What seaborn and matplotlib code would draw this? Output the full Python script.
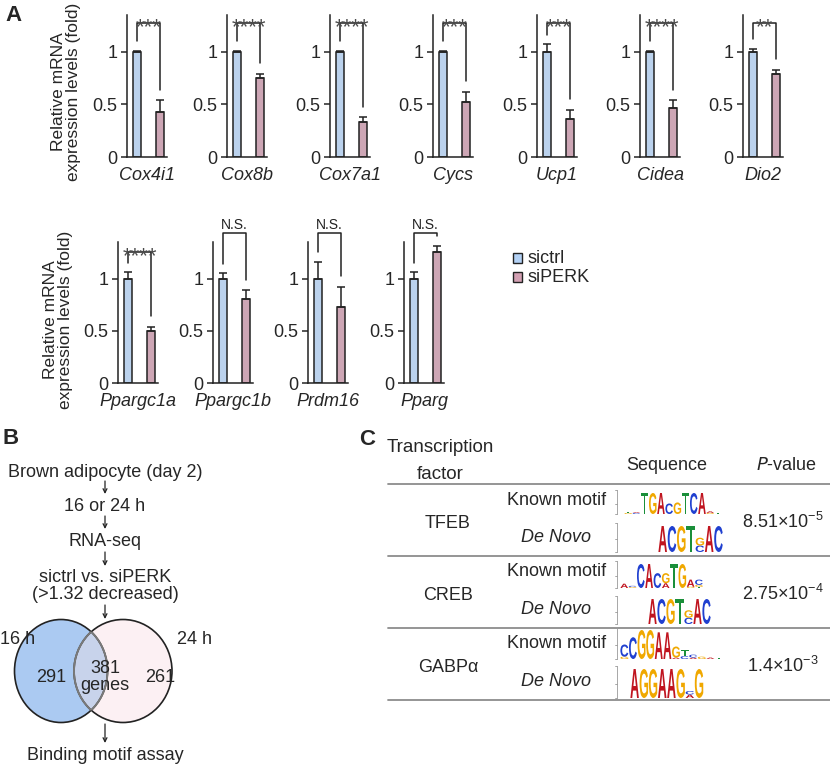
import numpy as np
import pandas as pd
import matplotlib.pyplot as plt
import seaborn as sns
from matplotlib.patches import Ellipse, PathPatch, Rectangle
from matplotlib.textpath import TextPath
from matplotlib.font_manager import FontProperties
from matplotlib.transforms import Affine2D

sns.set_style("ticks")
plt.rcParams['font.family'] = ['Liberation Sans', 'DejaVu Sans']
plt.rcParams['mathtext.default'] = 'regular'

# ---- panel A data ----
genes_top = ["Cox4i1", "Cox8b", "Cox7a1", "Cycs", "Ucp1", "Cidea", "Dio2"]
ctrl_top = [1.0, 1.0, 1.0, 1.0, 1.0, 1.0, 1.0]
ctrl_top_err = [0.01, 0.01, 0.01, 0.01, 0.07, 0.01, 0.03]
perk_top = [0.43, 0.75, 0.33, 0.52, 0.36, 0.47, 0.79]
perk_top_err = [0.11, 0.04, 0.05, 0.10, 0.09, 0.07, 0.04]
sig_top = ["***", "****", "****", "***", "***", "****", "**"]

genes_bot = ["Ppargc1a", "Ppargc1b", "Prdm16", "Pparg"]
ctrl_bot = [1.0, 1.0, 1.0, 1.0]
ctrl_bot_err = [0.06, 0.05, 0.16, 0.06]
perk_bot = [0.50, 0.80, 0.73, 1.25]
perk_bot_err = [0.04, 0.09, 0.19, 0.06]
sig_bot = ["****", "N.S.", "N.S.", "N.S."]

groups = ["sictrl", "siPERK"]

# ---- panel B data ----
flow_steps = ["Brown adipocyte (day 2)", "16 or 24 h", "RNA-seq",
              "sictrl vs. siPERK\n(>1.32 decreased)"]
venn_sets = ["16 h", "24 h"]
only_16, shared, only_24 = 291, 381, 261
final_step = "Binding motif assay"

# ---- panel C data ----
factors = ["TFEB", "CREB", "GABPα"]
pvalues = ["8.51×10$^{-5}$", "2.75×10$^{-4}$", "1.4×10$^{-3}$"]
# motif logos: each column is a stack of (letter, relative height), bottom first
tfeb_known = [[("G", 0.05), ("T", 0.04)], [("C", 0.05), ("A", 0.04)],
              [("T", 1.0)], [("G", 1.0)], [("A", 1.0)], [("C", 0.5)],
              [("G", 0.55)], [("T", 1.0)], [("C", 1.0)], [("A", 1.0)],
              [("G", 0.05), ("A", 0.08)], [("T", 0.04)]]
tfeb_novo = [[("A", 1.0)], [("C", 1.0)], [("G", 1.0)], [("T", 1.0)],
             [("C", 0.25), ("G", 0.3)], [("A", 1.0)], [("C", 1.0)]]
creb_known = [[("A", 0.18)], [("G", 0.04), ("C", 0.05)], [("C", 1.0)],
              [("A", 1.0)], [("C", 0.62)], [("A", 0.2), ("G", 0.42)],
              [("T", 1.0)], [("G", 1.0)], [("G", 0.05), ("A", 0.3)],
              [("T", 0.05), ("G", 0.08), ("C", 0.22)]]
creb_novo = [[("A", 1.0)], [("C", 1.0)], [("G", 1.0)], [("T", 1.0)],
             [("C", 0.25), ("G", 0.3)], [("A", 1.0)], [("C", 1.0)]]
gabp_known = [[("G", 0.08), ("C", 0.42)], [("C", 0.75)], [("G", 1.0)],
              [("G", 1.0)], [("A", 0.92)], [("A", 0.92)], [("A", 0.05), ("G", 0.38)],
              [("C", 0.1), ("T", 0.2)], [("A", 0.05), ("C", 0.1)],
              [("G", 0.08)], [("A", 0.05)], [("T", 0.03)]]
gabp_novo = [[("A", 1.0)], [("G", 1.0)], [("G", 1.0)], [("A", 1.0)],
             [("A", 1.0)], [("G", 1.0)], [("A", 0.12), ("C", 0.12)], [("G", 1.0)]]

blue = "#b3d1f5"
pink = "#d3a0b3"
dark = "#222222"
letter_colors = {"A": "#c0141f", "C": "#2040d0", "G": "#f0a800", "T": "#1a8f3a"}

W, H = 830, 765
fig = plt.figure(figsize=(W / 100, H / 100), dpi=100)


def px_axes(left, top, width, height):
    return fig.add_axes([left / W, 1 - (top + height) / H, width / W, height / H])


def bar_panel(ax, gene, c, ce, p, pe, sig, level):
    df = pd.DataFrame({"group": groups, "value": [c, p]})
    sns.barplot(data=df, x="group", y="value", hue="group", palette=[blue, pink],
                width=0.36, edgecolor=dark, linewidth=1.1, errorbar=None,
                legend=False, ax=ax)
    ax.errorbar([0, 1], [c, p], yerr=[[0, 0], [ce, pe]], fmt="none",
                ecolor=dark, elinewidth=1.1, capsize=3, capthick=1.1)
    ax.set_xlim(-0.45, 1.3)
    ax.set_ylim(0, 1.35)
    ax.set_yticks([0, 0.5, 1])
    ax.set_yticklabels(["0", "0.5", "1"])
    ax.set_xticks([])
    ax.set_ylabel("")
    ax.set_xlabel(gene, style="italic", fontsize=13, labelpad=7.5)
    ax.tick_params(axis="y", labelsize=13, length=4, width=1.1, pad=3)
    sns.despine(ax=ax)
    for s in ["left", "bottom"]:
        ax.spines[s].set_linewidth(1.1)
        ax.spines[s].set_color(dark)
    # significance bracket
    lb = c + ce + 0.09
    rb = p + pe + 0.1
    ax.plot([0, 0, 1, 1], [lb, level, level, rb], color=dark, lw=1.1, clip_on=False)
    if sig.startswith("*"):
        ax.text(0.5, level - 0.09, sig, ha="center", va="baseline", fontsize=16,
                color="#4a4a4a")
    else:
        ax.text(0.5, level + 0.005, sig, ha="center", va="bottom", fontsize=10,
                color=dark)


top_lefts = [127, 227, 330, 433, 537, 640, 743]
for i, g in enumerate(genes_top):
    ax = px_axes(top_lefts[i], 15, 40, 142)
    bar_panel(ax, g, ctrl_top[i], ctrl_top_err[i], perk_top[i], perk_top_err[i],
              sig_top[i], 1.27)

bot_lefts = [118, 213, 308, 404]
for i, g in enumerate(genes_bot):
    ax = px_axes(bot_lefts[i], 242, 40, 141)
    lvl = 1.25 if sig_bot[i].startswith("*") else 1.44
    bar_panel(ax, g, ctrl_bot[i], ctrl_bot_err[i], perk_bot[i], perk_bot_err[i],
              sig_bot[i], lvl)

# overlay in pixel coordinates for text, venn and table
ov = fig.add_axes([0, 0, 1, 1])
ov.set_xlim(0, W)
ov.set_ylim(H, 0)
ov.axis("off")

ylab = "Relative mRNA\nexpression levels (fold)"
ov.text(66, 92, ylab, rotation=90, ha="center", va="center", fontsize=12.5,
        linespacing=0.95)
ov.text(58, 320, ylab, rotation=90, ha="center", va="center", fontsize=12.5,
        linespacing=0.95)

# legend
for k, (lab, col) in enumerate(zip(groups, [blue, pink])):
    y = 258 + 19 * k
    ov.add_patch(Rectangle((513, y - 5), 9, 10, fc=col, ec=dark, lw=1.0))
    ov.text(527, y, lab, ha="left", va="center", fontsize=13)

# panel letters
for lab, x, y in [("A", 13, 15), ("B", 11, 438), ("C", 367, 439)]:
    ov.text(x, y, lab, ha="center", va="center", fontsize=16, fontweight="bold")


def arrow(x, y0, y1):
    ov.annotate("", xy=(x, y1), xytext=(x, y0),
                arrowprops=dict(arrowstyle="->", lw=0.9, color=dark,
                                shrinkA=0, shrinkB=0, mutation_scale=7))


# ---- panel B ----
fx = 105
ov.text(fx, 472, flow_steps[0], ha="center", va="center", fontsize=13)
arrow(fx, 481, 494)
ov.text(fx, 506, flow_steps[1], ha="center", va="center", fontsize=13)
arrow(fx, 516, 529)
ov.text(fx, 541, flow_steps[2], ha="center", va="center", fontsize=13)
arrow(fx, 552, 566)
ov.text(fx, 586, flow_steps[3], ha="center", va="center", fontsize=13,
        linespacing=1.05)
arrow(fx, 605, 619)

cl, cr = (61, 671), (123, 671)
wl, wr, hh = 93, 98, 103
left_fill = Ellipse(cl, wl, hh, fc="#abcaf2", ec="none")
right_fill = Ellipse(cr, wr, hh, fc="#fcf0f3", ec="none")
ov.add_patch(left_fill)
ov.add_patch(right_fill)
inter = Ellipse(cl, wl, hh, fc="#c8d3eb", ec="none")
ov.add_patch(inter)
inter.set_clip_path(right_fill)
ov.add_patch(Ellipse(cl, wl, hh, fc="none", ec=dark, lw=1.2))
ov.add_patch(Ellipse(cr, wr, hh, fc="none", ec=dark, lw=1.2))
g1 = Ellipse(cl, wl, hh, fc="none", ec="#7a7a7a", lw=1.4)
ov.add_patch(g1)
g1.set_clip_path(right_fill)
g2 = Ellipse(cr, wr, hh, fc="none", ec="#7a7a7a", lw=1.4)
ov.add_patch(g2)
g2.set_clip_path(left_fill)

ov.text(35, 640, venn_sets[0], ha="right", va="center", fontsize=13)
ov.text(177, 640, venn_sets[1], ha="left", va="center", fontsize=13)
ov.text(51, 677, str(only_16), ha="center", va="center", fontsize=13)
ov.text(105, 677, f"{shared}\ngenes", ha="center", va="center", fontsize=13,
        linespacing=1.05)
ov.text(160, 677, str(only_24), ha="center", va="center", fontsize=13)
arrow(fx, 724, 743)
ov.text(fx, 755, final_step, ha="center", va="center", fontsize=13)

# ---- panel C ----
for y in [484, 556, 628, 700]:
    ov.plot([388, 830], [y, y], color="#8c8c8c", lw=1.3)
ov.text(440, 447, "Transcription", ha="center", va="center", fontsize=13.5)
ov.text(440, 474, "factor", ha="center", va="center", fontsize=13.5)
ov.text(667, 465, "Sequence", ha="center", va="center", fontsize=13)
ov.text(787, 465, "$\\it{P}$-value", ha="center", va="center", fontsize=13)

row_y = [520, 592, 664]
for k in range(3):
    ov.text(448, row_y[k] + 3, factors[k], ha="center", va="center", fontsize=13)
    ov.text(557, row_y[k] - 20, "Known motif", ha="center", va="center", fontsize=13)
    ov.text(556, row_y[k] + 18, "De Novo", ha="center", va="center", fontsize=13,
            style="italic")
    ov.text(783, row_y[k] + 2, pvalues[k], ha="center", va="center", fontsize=13)

fp = FontProperties(family="Liberation Sans", weight="bold")


def draw_letter(ch, x, base, w, h):
    tp = TextPath((0, 0), ch, size=10, prop=fp)
    bb = tp.get_extents()
    tr = (Affine2D().translate(-bb.x0, -bb.y0)
          .scale(w / bb.width, -h / bb.height).translate(x, base))
    ov.add_patch(PathPatch(tr.transform_path(tp), fc=letter_colors[ch], ec="none"))


def draw_logo(cols, x0, base, colw, full_h):
    ov.plot([617, 617], [base - full_h - 3, base], color="#999999", lw=0.6)
    for t in [base - full_h - 3, base - full_h / 2, base]:
        ov.plot([615, 617], [t, t], color="#999999", lw=0.6)
    for i, col in enumerate(cols):
        y = base
        for ch, frac in col:
            h = frac * full_h
            if h < 0.4:
                continue
            draw_letter(ch, x0 + i * colw + 0.4, y, colw * 0.92, h)
            y -= h


draw_logo(tfeb_known, 624, 514, 8.2, 21)
draw_logo(tfeb_novo, 658, 552, 9.3, 26)
draw_logo(creb_known, 620, 588, 8.3, 24)
draw_logo(creb_novo, 648, 624, 9.0, 25)
draw_logo(gabp_known, 620, 659, 8.6, 29)
draw_logo(gabp_novo, 630, 698, 9.2, 29)

fig.savefig("out.png", dpi=100)
